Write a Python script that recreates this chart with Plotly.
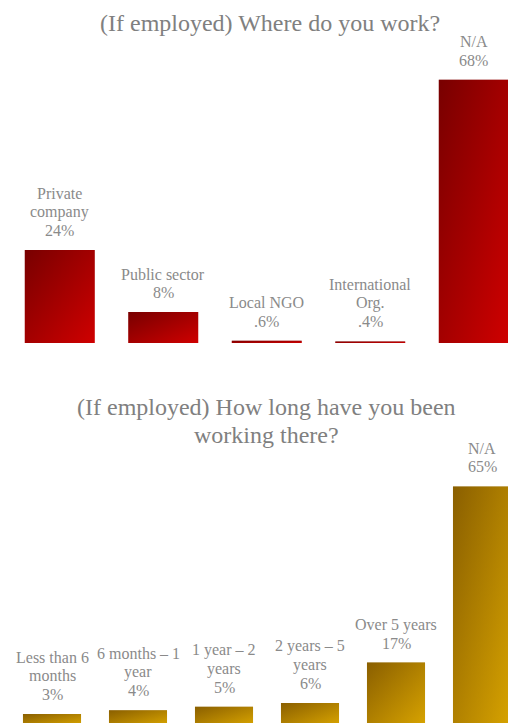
import plotly.graph_objects as go

# ---------------- data ----------------
work_labels = ["Private\ncompany", "Public sector", "Local NGO", "International\nOrg.", "N/A"]
work_values = [24, 8, 0.6, 0.4, 68]
work_text = ["24%", "8%", ".6%", ".4%", "68%"]

tenure_labels = ["Less than 6\nmonths", "6 months – 1\nyear", "1 year – 2\nyears",
                 "2 years – 5\nyears", "Over 5 years", "N/A"]
tenure_values = [3, 4, 5, 6, 17, 65]
tenure_text = ["3%", "4%", "5%", "6%", "17%", "65%"]

title_top = "(If employed) Where do you work?"
title_bottom = ["(If employed) How long have you been", "working there?"]

# ---------------- style ----------------
W, H = 508, 723
FONT = "Liberation Serif"
LABEL_COLOR = "#8a8a8a"
TITLE_COLOR = "#808080"
RED = ("#780000", "#cf0000")
GOLD = ("#8a5f00", "#d7a300")
BAR_W = 0.675

fig = go.Figure()


def hex_rgba(h, a):
    h = h.lstrip("#")
    r, g, b = int(h[0:2], 16), int(h[2:4], 16), int(h[4:6], 16)
    return f"rgba({r},{g},{b},{a})"


def add_bars(values, xa, ya, colors):
    dark, bright = colors
    for i, v in enumerate(values):
        xs = [i - BAR_W / 2, i + BAR_W / 2, i + BAR_W / 2, i - BAR_W / 2, i - BAR_W / 2]
        ys = [0, 0, v, v, 0]
        # vertical gradient (dark at top, bright at bottom)
        fig.add_trace(go.Scatter(
            x=xs, y=ys, xaxis=xa, yaxis=ya, mode="lines", fill="toself",
            line=dict(width=0, color="rgba(0,0,0,0)"), hoverinfo="skip", showlegend=False,
            fillgradient=dict(type="vertical", colorscale=[[0, bright], [1, dark]]),
        ))
        # horizontal half-transparent overlay -> diagonal look
        fig.add_trace(go.Scatter(
            x=xs, y=ys, xaxis=xa, yaxis=ya, mode="lines", fill="toself",
            line=dict(width=0, color="rgba(0,0,0,0)"), hoverinfo="skip", showlegend=False,
            fillgradient=dict(type="horizontal",
                              colorscale=[[0, hex_rgba(dark, 0.5)], [1, hex_rgba(bright, 0.5)]]),
        ))


def add_labels(labels, texts, values, xa, ya):
    for i, (lab, t, v) in enumerate(zip(labels, texts, values)):
        lines = lab.split("\n") + [t]
        n = len(lines)
        for k, line in enumerate(lines):
            from_bottom = n - 1 - k
            fig.add_annotation(
                x=i, y=v, xref=xa, yref=ya, text=line, showarrow=False,
                xanchor="center", yanchor="middle",
                yshift=19.5 + 18.5 * from_bottom,
                font=dict(family=FONT, size=16, color=LABEL_COLOR),
            )


add_bars(work_values, "x", "y", RED)
add_bars(tenure_values, "x2", "y2", GOLD)
add_labels(work_labels, work_text, work_values, "x", "y")
add_labels(tenure_labels, tenure_text, tenure_values, "x2", "y2")


def py(px):
    return 1 - px / H


fig.add_annotation(x=270 / W, y=py(23), xref="paper", yref="paper", text=title_top,
                   showarrow=False, xanchor="center", yanchor="middle",
                   font=dict(family=FONT, size=24, color=TITLE_COLOR))
for line, ypx in zip(title_bottom, [407, 435]):
    fig.add_annotation(x=266 / W, y=py(ypx), xref="paper", yref="paper", text=line,
                       showarrow=False, xanchor="center", yanchor="middle",
                       font=dict(family=FONT, size=24, color=TITLE_COLOR))

# axes geometry
top_base_px = 343
top_ppu = 3.87
bot_base_px = 725   # baseline of lower chart lies just below the window
bot_ppu = 3.67
bot_domain_top_px = 361.5

axis_common = dict(showgrid=False, zeroline=False, showticklabels=False, ticks="",
                   showline=False, fixedrange=True)

y2_min = (bot_base_px - H) / bot_ppu
y2_max = y2_min + (H - bot_domain_top_px) / bot_ppu

fig.update_layout(
    width=W, height=H,
    margin=dict(l=0, r=0, t=0, b=0),
    paper_bgcolor="white", plot_bgcolor="white",
    showlegend=False,
    font=dict(family=FONT),
    xaxis=dict(domain=[8 / W, 1], range=[-0.5, -0.5 + 500 / 103.5], anchor="y", **axis_common),
    yaxis=dict(domain=[py(top_base_px), 1], range=[0, top_base_px / top_ppu], anchor="x", **axis_common),
    xaxis2=dict(domain=[9 / W, 1], range=[-0.5, -0.5 + 499 / 86], anchor="y2", **axis_common),
    yaxis2=dict(domain=[0, py(bot_domain_top_px)], range=[y2_min, y2_max], anchor="x2", **axis_common),
)

fig.write_html("out.html")
